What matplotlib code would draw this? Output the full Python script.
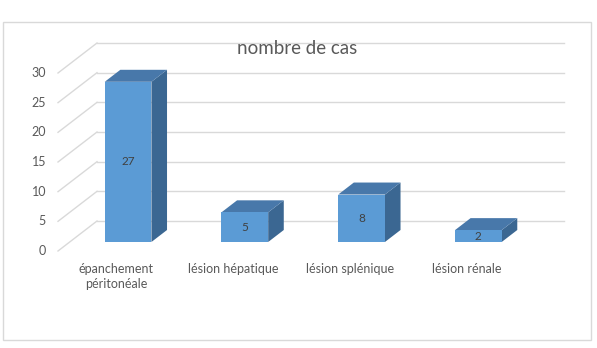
import matplotlib.pyplot as plt
from matplotlib.patches import Polygon, Rectangle
from matplotlib.transforms import ScaledTranslation

categories = ['épanchement\npéritonéale', 'lésion hépatique', 'lésion splénique', 'lésion rénale']
values = [27, 5, 8, 2]
yticks = [0, 5, 10, 15, 20, 25, 30]
title = 'nombre de cas'

plt.rcParams['font.family'] = ['Lato', 'DejaVu Sans']
txt_col = '#595959'
grid_col = '#D9D9D9'
front_col = '#5B9BD5'
top_col = '#4878AA'
side_col = '#3B6792'

W, H = 597, 348
fig = plt.figure(figsize=(W / 100, H / 100), dpi=100)

# outer chart border
fig.patches.append(Rectangle((3 / W, 8 / H), 588 / W, 318 / H, transform=fig.transFigure,
                             fill=False, edgecolor=grid_col, linewidth=1))

# front floor plane of the 3d box (pixels)
left, right, bottom, top = 58, 525, H - 251, H - 73
ax = fig.add_axes([left / W, bottom / H, (right - left) / W, (top - bottom) / H])
ax.set_xlim(-0.5, len(categories) - 0.5)
ax.set_ylim(0, 30)
ax.axis('off')

# depth of the box in pixels, converted to data units
depth_px = (39, 30)
DX = depth_px[0] * (len(categories)) / (right - left)
DY = depth_px[1] * 30 / (top - bottom)


def proj(x, v, d):
    return x + d * DX, v + d * DY


# back wall gridlines and left wall diagonals
for v in yticks:
    x0, y0 = proj(-0.5, v, 1)
    x1, y1 = proj(len(categories) - 0.5, v, 1)
    ax.plot([x0, x1], [y0, y1], color=grid_col, lw=1, zorder=1, clip_on=False)
    ax.plot([-0.5, x0], [v, y0], color=grid_col, lw=1, zorder=1, clip_on=False)
    ax.text(-0.5, v, str(v), ha='right', va='center', fontsize=9, color=txt_col,
            transform=ax.transData + ScaledTranslation(-0.12, 0, fig.dpi_scale_trans))

# bars: front face at 0.3 depth, back at 0.7 depth
bw = 0.4
d0, d1 = 0.3, 0.7
for i, (cat, val) in enumerate(zip(categories, values)):
    xl, xr = i - bw / 2, i + bw / 2
    # side
    side = [proj(xr, 0, d0), proj(xr, 0, d1), proj(xr, val, d1), proj(xr, val, d0)]
    ax.add_patch(Polygon(side, closed=True, facecolor=side_col, edgecolor='none', zorder=3, clip_on=False))
    # top
    topf = [proj(xl, val, d0), proj(xr, val, d0), proj(xr, val, d1), proj(xl, val, d1)]
    ax.add_patch(Polygon(topf, closed=True, facecolor=top_col, edgecolor='none', zorder=3, clip_on=False))
    # front
    fx, fy = proj(i, 0, d0)
    ax.bar(fx, val, bottom=fy, width=bw, color=front_col, zorder=4, clip_on=False)
    ax.text(fx, fy + val / 2, str(val), ha='center', va='center', fontsize=8.5, color='#404040', zorder=5)
    # category label
    ax.text(i, 0, cat, ha='center', va='top', fontsize=9, color=txt_col, linespacing=1.35,
            transform=ax.transData + ScaledTranslation(0, -0.12, fig.dpi_scale_trans))

fig.text(297 / W, 1 - 48 / H, title, ha='center', va='center', fontsize=13.5, color=txt_col)

fig.savefig('out.png', dpi=100)
